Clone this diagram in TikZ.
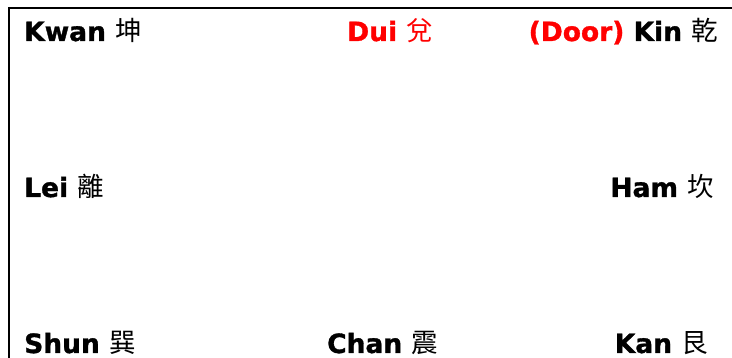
\documentclass[tikz,border=0pt]{standalone}
\usepackage{fontspec}
\setmainfont{DejaVu Sans}[BoldFeatures={FakeBold=1.2}]
\newfontfamily\cjk{Noto Sans CJK TC}
\usepackage{tikz}
\usetikzlibrary{positioning}

\begin{document}
\begin{tikzpicture}[x=1pt,y=-1pt,
  gua/.style={inner sep=0pt,font=\fontsize{26.5}{30}\selectfont\bfseries},
  frame/.style={line width=1.4pt}]
\useasboundingbox (0,0) rectangle (732,358);
\draw[frame,line width=2.2pt] (9,8) -- (733,8);
\draw[frame] (9,7) -- (9,359);

% top row
\node[gua,anchor=base west] (kwan) at (24,41) {Kwan {\cjk\mdseries 坤}};
\node[gua,anchor=base west,text=red] (dui) at (347,41) {Dui {\cjk\mdseries 兌}};
\node[gua,anchor=base east] (kin) at (718,41) {{\color{red}(Door)} Kin {\cjk\mdseries 乾}};

% middle row
\node[gua,anchor=base west] (lei) at (24,197) {Lei {\cjk\mdseries 離}};
\node[gua,anchor=base east] (ham) at (714,197) {Ham {\cjk\mdseries 坎}};

% bottom row
\node[gua,anchor=base west] (shun) at (24,353) {Shun {\cjk\mdseries 巽}};
\node[gua,anchor=base west] (chan) at (327,353) {Chan {\cjk\mdseries 震}};
\node[gua,anchor=base east] (kan) at (708,353) {Kan {\cjk\mdseries 艮}};
\end{tikzpicture}
\end{document}
